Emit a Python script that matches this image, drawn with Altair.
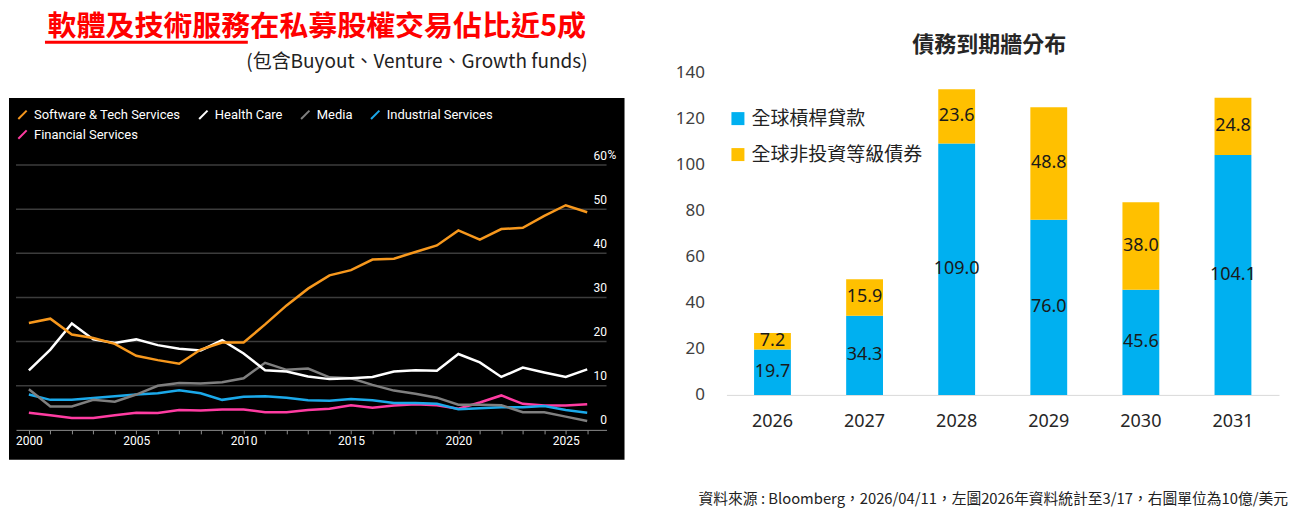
import altair as alt
import pandas as pd

# ---- left panel: share of PE deal value by sector (%) ----
YEARS = list(range(2000, 2027))
SOFTWARE = [24.2, 25.2, 21.6, 20.8, 19.5, 16.8, 15.8, 15.0, 18.2, 19.8, 19.8, 23.9, 28.2,
            32.0, 35.0, 36.2, 38.6, 38.8, 40.3, 41.8, 45.2, 43.1, 45.5, 45.8, 48.5, 50.9, 49.3]
HEALTH = [13.5, 18.2, 24.1, 20.5, 19.7, 20.5, 19.2, 18.4, 18.0, 20.3, 17.3, 13.5, 13.2,
          12.1, 11.5, 11.7, 12.0, 13.2, 13.5, 13.4, 17.2, 15.3, 12.0, 14.1, 13.0, 12.0, 13.7]
MEDIA = [9.2, 5.3, 5.3, 6.8, 6.4, 8.0, 10.0, 10.6, 10.5, 10.8, 11.7, 15.2, 13.6,
         13.9, 11.9, 11.7, 10.2, 8.9, 8.2, 7.3, 5.7, 5.7, 5.6, 4.0, 4.0, 3.0, 2.0]
INDUSTRIAL = [8.0, 6.8, 6.8, 7.2, 7.6, 8.0, 8.3, 9.0, 8.3, 6.8, 7.5, 7.6, 7.3,
              6.7, 6.6, 7.0, 6.7, 6.1, 6.1, 5.9, 4.7, 4.9, 5.1, 5.1, 5.4, 4.5, 3.9]
FINANCIAL = [3.9, 3.3, 2.7, 2.7, 3.3, 3.9, 3.8, 4.5, 4.4, 4.6, 4.6, 4.0, 4.0,
             4.5, 4.8, 5.6, 5.0, 5.5, 5.8, 5.6, 4.8, 6.2, 7.8, 5.9, 5.5, 5.5, 5.8]
SECTORS = ["Software & Tech Services", "Health Care", "Media", "Industrial Services", "Financial Services"]
SECTOR_COLORS = ["#f7981d", "#ffffff", "#7f7f7f", "#1ba9ea", "#ff3ca2"]
GRID_VALUES = [10, 20, 30, 40, 50, 60]
Y_TICKS_LEFT = [0, 10, 20, 30, 40, 50, 60]

# ---- right panel: debt maturity wall (USD bn) ----
MATURITY_YEARS = ["2026", "2027", "2028", "2029", "2030", "2031"]
LOANS = [19.7, 34.3, 109.0, 76.0, 45.6, 104.1]
HIGH_YIELD = [7.2, 15.9, 23.6, 48.8, 38.0, 24.8]
DEBT_TYPES = ["全球槓桿貸款", "全球非投資等級債券"]
DEBT_COLORS = ["#00b0f0", "#ffc000"]
Y_TICKS_RIGHT = [0, 20, 40, 60, 80, 100, 120, 140]

TITLE_LEFT = "軟體及技術服務在私募股權交易佔比近5成"
SUBTITLE_LEFT = "(包含Buyout、Venture、Growth funds)"
TITLE_RIGHT = "債務到期牆分布"
FOOTER = "資料來源 : Bloomberg，2026/04/11，左圖2026年資料統計至3/17，右圖單位為10億/美元"

CJK = "Noto Sans CJK TC"
LATIN = "Roboto"

# draw order: software last so it sits on top
series = [("Financial Services", FINANCIAL), ("Industrial Services", INDUSTRIAL),
          ("Media", MEDIA), ("Health Care", HEALTH), ("Software & Tech Services", SOFTWARE)]
line_df = pd.concat(
    [pd.DataFrame({"year": YEARS, "share": vals, "sector": name}) for name, vals in series],
    ignore_index=True,
)
one = pd.DataFrame({"k": [0]})

# both panels share the same plot top (page y=72), so the left plot is taller
# than its gridded area and its y domain runs past 60
W_L, H_L = 591, 358

x_left = alt.X(
    "year:Q",
    scale=alt.Scale(domain=[1999.4, 2026.9], nice=False, zero=False),
    axis=alt.Axis(values=YEARS, format="d", labelExpr="datum.value % 5 == 0 ? datum.label : ''",
                  title=None, grid=False, domainColor="#8c8c8c", tickColor="#8c8c8c", tickSize=4,
                  labelColor="white", labelFont=LATIN, labelFontSize=12, labelPadding=2,
                  labelFlush=False, labelOverlap=False, zindex=1),
)
y_left = alt.Y(
    "share:Q",
    scale=alt.Scale(domain=[0, 81.06], nice=False),
    axis=alt.Axis(orient="right", values=Y_TICKS_LEFT, title=None, grid=False, domain=False,
                  ticks=False, tickSize=0, labelAlign="right", labelPadding=0,
                  labelBaseline="alphabetic", labelOffset=-6, labelColor="white",
                  labelFont=LATIN, labelFontSize=12, zindex=1),
)

frame_l = alt.Chart(one).mark_rect(opacity=0).encode(
    x=alt.value(-8), x2=alt.value(624), y=alt.value(-64), y2=alt.value(436))
panel = alt.Chart(one).mark_rect(color="black").encode(
    x=alt.value(-7), x2=alt.value(609), y=alt.value(26), y2=alt.value(388))
grid = alt.Chart(pd.DataFrame({"share": GRID_VALUES})).mark_rule(
    color="#3c3c3c", strokeWidth=1.5).encode(y=y_left, x=alt.value(0), x2=alt.value(W_L))
pct = alt.Chart(pd.DataFrame({"share": [60]})).mark_text(
    text="%", align="left", baseline="alphabetic", dy=-6, color="white", font=LATIN, fontSize=12
).encode(y=y_left, x=alt.value(W_L + 1))
lines = alt.Chart(line_df).mark_line(strokeWidth=2.5).encode(
    x=x_left,
    y=y_left,
    color=alt.Color(
        "sector:N",
        scale=alt.Scale(domain=SECTORS, range=SECTOR_COLORS),
        legend=alt.Legend(title=None, orient="none", legendX=0, legendY=36, direction="horizontal",
                          columns=4, columnPadding=14, rowPadding=3, padding=0,
                          labelColor="white", labelFont=LATIN, labelFontSize=13, labelOffset=5,
                          symbolType="M-1,1L1,-1", symbolSize=70, symbolStrokeWidth=2),
    ),
)
title_l = alt.Chart(one).mark_text(
    text=TITLE_LEFT, font=CJK, fontSize=29, fontWeight="bold", color="#ff0000",
    align="center", baseline="middle").encode(x=alt.value(301), y=alt.value(-45))
underline = alt.Chart(one).mark_rule(color="#ff0000", strokeWidth=3).encode(
    x=alt.value(29), x2=alt.value(232), y=alt.value(-30))
subtitle_l = alt.Chart(one).mark_text(
    text=SUBTITLE_LEFT, font=CJK, fontSize=19, color="#222222",
    align="right", baseline="middle").encode(x=alt.value(572), y=alt.value(-10))

left = alt.layer(frame_l, panel, grid, lines, pct, title_l, underline, subtitle_l).properties(
    width=W_L, height=H_L)

# ---- right chart ----
bar_df = pd.DataFrame({
    "year": MATURITY_YEARS * 2,
    "type": [DEBT_TYPES[0]] * len(LOANS) + [DEBT_TYPES[1]] * len(HIGH_YIELD),
    "value": LOANS + HIGH_YIELD,
    "idx": [0] * len(LOANS) + [1] * len(HIGH_YIELD),
})

W_R, H_R = 553, 323

x_right = alt.X(
    "year:N",
    sort=MATURITY_YEARS,
    scale=alt.Scale(paddingInner=0.6, paddingOuter=0.3),
    axis=alt.Axis(title=None, labelAngle=0, domainColor="#d9d9d9", ticks=False, grid=False,
                  labelPadding=18, labelFont="Noto Sans", labelFontSize=18, labelColor="#262626"),
)
right_axis = alt.Axis(title=None, values=Y_TICKS_RIGHT, grid=False, domain=False, ticks=False,
                      labelPadding=22, labelFont="Noto Sans", labelFontSize=17, labelColor="#404040")

bars = alt.Chart(bar_df).mark_bar().encode(
    x=x_right,
    y=alt.Y("value:Q", scale=alt.Scale(domain=[0, 140], nice=False), axis=right_axis),
    order=alt.Order("idx:Q"),
    color=alt.Color(
        "type:N",
        scale=alt.Scale(domain=DEBT_TYPES, range=DEBT_COLORS),
        legend=alt.Legend(title=None, orient="none", legendX=2, legendY=37, direction="vertical",
                          padding=0, rowPadding=16, symbolType="square", symbolSize=169,
                          symbolStrokeWidth=0, labelFont=CJK, labelFontSize=19, labelOffset=4,
                          labelLimit=0, labelColor="#222222"),
    ),
)
bar_labels = alt.Chart(bar_df).transform_stack(
    stack="value", groupby=["year"], as_=["y0", "y1"], sort=[alt.SortField("idx", order="ascending")]
).transform_calculate(
    mid="(datum.y0 + datum.y1) / 2"
).mark_text(font="Noto Sans", fontSize=18, color="#1a1a1a").encode(
    x=x_right,
    y=alt.Y("mid:Q", scale=alt.Scale(domain=[0, 140], nice=False), axis=right_axis),
    text=alt.Text("value:Q", format=".1f"),
)
frame_r = alt.Chart(one).mark_rect(opacity=0).encode(
    x=alt.value(-87), x2=alt.value(563), y=alt.value(-64), y2=alt.value(436))
title_r = alt.Chart(one).mark_text(
    text=TITLE_RIGHT, font=CJK, fontSize=22, fontWeight="bold", color="#262626",
    align="center", baseline="middle").encode(x=alt.value(263), y=alt.value(-27))
footer = alt.Chart(one).mark_text(
    text=FOOTER, font=CJK, fontSize=14.8, color="#222222",
    align="right", baseline="middle").encode(x=alt.value(562), y=alt.value(428))

right = alt.layer(frame_r, bars, bar_labels, title_r, footer).properties(width=W_R, height=H_R)

chart = alt.hconcat(left, right, spacing=0).resolve_scale(
    color="independent"
).resolve_legend(
    color="independent"
).properties(
    padding=0, background="white"
).configure_view(strokeWidth=0)

chart.save("out.html", embed_options={"renderer": "svg", "actions": False})
